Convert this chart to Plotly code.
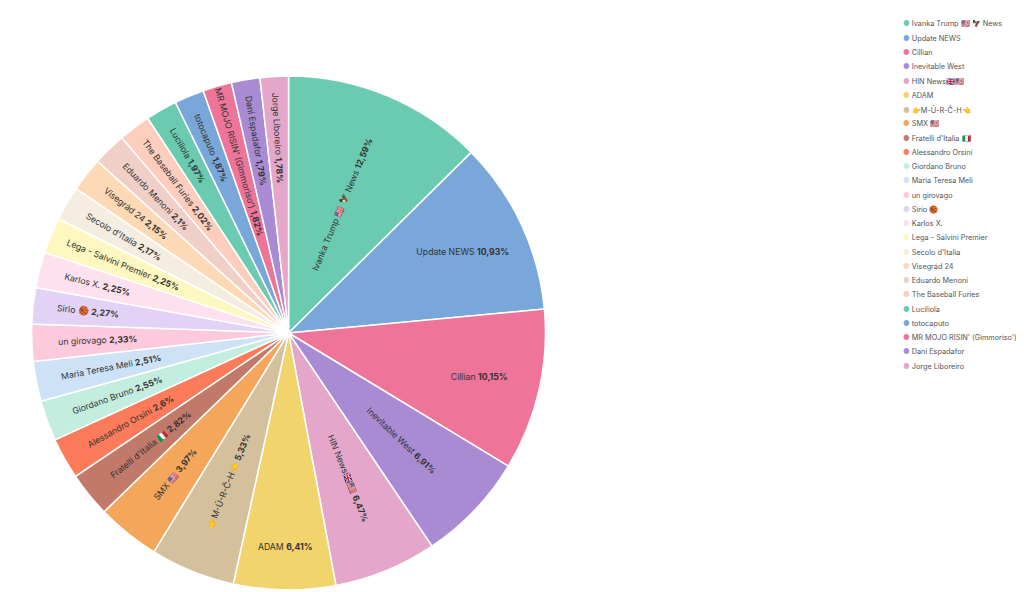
import plotly.graph_objects as go

labels = ["Ivanka Trump 🇺🇸 🦅 News", "Update NEWS", "Cillian", "Inevitable West", "HIN News🇬🇧🇺🇸",
          "ADAM", "👉M-Ū-R-Č-H👈", "SMX 🇺🇸", "Fratelli d'Italia 🇮🇹", "Alessandro Orsini",
          "Giordano Bruno", "Maria Teresa Meli", "un girovago", "Sirio 🏀", "Karlos X.",
          "Lega - Salvini Premier", "Secolo d'Italia", "Visegrád 24", "Eduardo Menoni",
          "The Baseball Furies", "Luciliola", "totocaputo", "MR MOJO RISIN' (Gimmoriso')",
          "Dani Espadafor", "Jorge Liboreiro"]
values = [12.59, 10.93, 10.15, 6.91, 6.47, 6.41, 5.33, 3.97, 2.82, 2.6, 2.55, 2.51, 2.33,
          2.27, 2.25, 2.25, 2.17, 2.15, 2.1, 2.02, 1.97, 1.87, 1.82, 1.79, 1.78]
colors = ["#6acbb1", "#7aa7d9", "#ee7499", "#a98bd3", "#e4a7c9", "#f1d46b", "#d4c09c",
          "#f4a65a", "#c17a6a", "#fb7b5b", "#c3eedf", "#cde2f7", "#fdc9dc", "#e2d2f6",
          "#fde1ee", "#fdf7c0", "#f4ede0", "#fdd9b5", "#f0cfc7", "#fdcdbd",
          "#6acbb1", "#7aa7d9", "#ee7499", "#a98bd3", "#e4a7c9"]

W, H = 1024, 592

fig = go.Figure(go.Pie(
    labels=labels, values=values, sort=False, direction="clockwise", rotation=0,
    marker=dict(colors=colors, line=dict(color="white", width=1.5)),
    texttemplate="%{label} <b>%{percent:.2~%}</b>",
    textposition="inside", insidetextorientation="auto",
    textfont=dict(color="#333", size=11),
    domain=dict(x=[0.0, 0.548], y=[0.017, 0.885]),
    showlegend=False,
))

# compact legend built from annotations
for i, (lab, col) in enumerate(zip(labels, colors)):
    y = 1 - (16 + i * 14.25) / H
    fig.add_annotation(x=893 / W, y=y, xref="paper", yref="paper", showarrow=False,
                       xanchor="left", yanchor="middle",
                       text=f"<span style='color:{col}'>●</span> <span style='color:#555'>{lab}</span>",
                       font=dict(size=7.3, color="#555"))

fig.update_layout(
    width=W, height=H, separators=",.",
    margin=dict(l=0, r=0, t=0, b=0),
    font=dict(family="Inter, Noto Sans", color="#555"),
    paper_bgcolor="white",
    uniformtext=dict(minsize=6, mode="show"),
)
fig.write_html("out.html")
